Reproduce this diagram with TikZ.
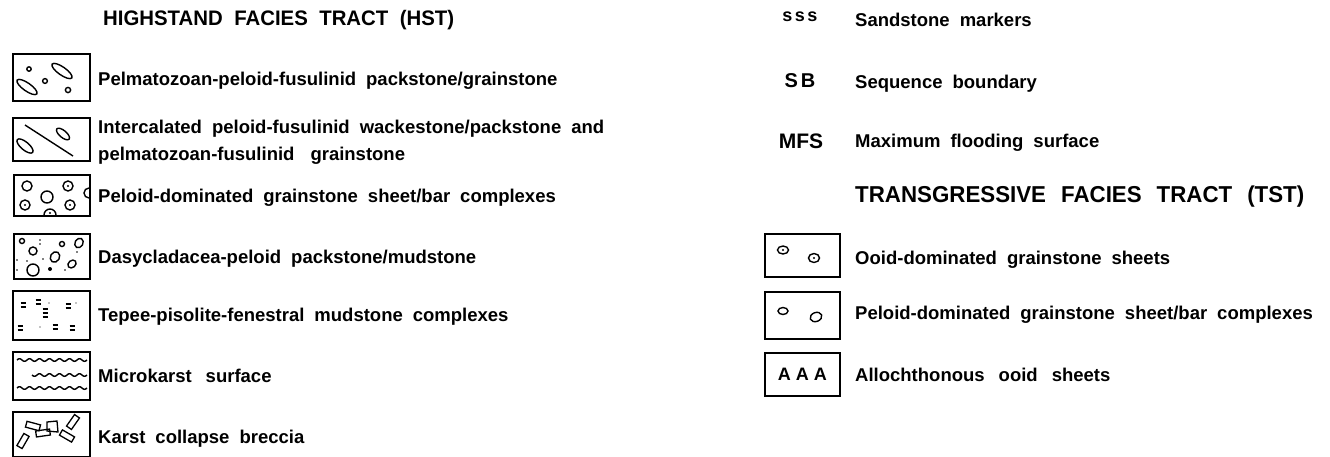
\documentclass[tikz,border=0pt]{standalone}
\usepackage{fontspec}
\setmainfont{Liberation Sans}
\newfontfamily\hfont{Liberation Sans}[FakeStretch=0.97]
\newfontfamily\sfont{Liberation Sans}
\newcommand{\bodyws}{\spaceskip=10pt plus 1pt minus 1pt\relax}
\newcommand{\hdrws}{\spaceskip=11.5pt plus 2pt minus 1pt\relax}
\newcommand{\tstws}{\spaceskip=15pt plus 2pt minus 1pt\relax}
\begin{document}
\begin{tikzpicture}[x=1pt,y=-1pt,
  lbox/.style={draw, line width=1.8pt, minimum width=#1, inner sep=0pt, anchor=north west},
  txt/.style={anchor=west, inner sep=0pt, text height=13pt, text depth=0pt, font=\bfseries\fontsize{18.5}{22}\selectfont, execute at begin node=\bodyws},
  hdr/.style={anchor=west, inner sep=0pt, text height=15pt, text depth=0pt, font=\hfont\bfseries\fontsize{21}{26}\selectfont, execute at begin node=\hdrws},
  sym/.style={inner sep=0pt, font=\sfont\bfseries\fontsize{20}{24}\selectfont},
  pat/.style={line width=1.4pt}
]
\useasboundingbox (0,0) rectangle (1330,456);

% ---------- left column ----------
\node[hdr] (hst) at (103,18) {HIGHSTAND FACIES TRACT (HST)};

\node[lbox=77pt, minimum height=47pt] (b1) at (12,53) {};
\node[lbox=77pt, minimum height=43pt] (b2) at (12,117) {};
\node[lbox=76pt, minimum height=41pt] (b3) at (13,174) {};
\node[lbox=76pt, minimum height=45pt] (b4) at (13,233) {};
\node[lbox=77pt, minimum height=49pt] (b5) at (12,290) {};
\node[lbox=77pt, minimum height=48pt] (b6) at (12,351) {};
\node[lbox=77pt, minimum height=45pt] (b7) at (12,411) {};

\node[txt] (t1) at (98,79) {Pelmatozoan-peloid-fusulinid packstone/grainstone};
\node[txt] (t2a) at (98,127) {Intercalated peloid-fusulinid wackestone/packstone and};
\node[txt] (t2b) at (98,154) {pelmatozoan-fusulinid\hspace{16pt}grainstone};
\node[txt] (t3) at (98,196) {Peloid-dominated grainstone sheet/bar complexes};
\node[txt] (t4) at (98,257) {Dasycladacea-peloid packstone/mudstone};
\node[txt] (t5) at (98,315) {Tepee-pisolite-fenestral mudstone complexes};
\node[txt] (t6) at (98,376) {Microkarst\hspace{14pt}surface};
\node[txt] (t7) at (98,437) {Karst collapse breccia};

% box 1 pattern
\begin{scope}[shift={(b1.north west)}, pat]
  \draw (17,16) circle[radius=2.2pt];
  \draw[rotate around={-35:(50,18)}] (50,18) ellipse[x radius=12pt, y radius=4pt];
  \draw[rotate around={-35:(15,34)}] (15,34) ellipse[x radius=12pt, y radius=4pt];
  \draw (33,28) circle[radius=2.4pt];
  \draw (56,37) circle[radius=2.6pt];
\end{scope}
% box 2 pattern
\begin{scope}[shift={(b2.north west)}, pat]
  \draw (13,8) -- (61,39);
  \draw[rotate around={-40:(13,29)}] (13,29) ellipse[x radius=10pt, y radius=4pt];
  \draw[rotate around={-40:(51,17)}] (51,17) ellipse[x radius=8pt, y radius=3.5pt];
\end{scope}
% box 3 pattern
\begin{scope}[shift={(b3.north west)}, pat]
  \draw (14,12) circle[radius=5pt];
  \draw (55,12) circle[radius=5pt]; \fill (55,12) circle[radius=1.2pt];
  \draw (34,23) circle[radius=6pt];
  \draw (12,31) circle[radius=5pt]; \fill (12,31) circle[radius=1.2pt];
  \draw (57,31) circle[radius=5pt]; \fill (57,31) circle[radius=1.2pt];
  \draw (31,41) arc[start angle=180, end angle=0, radius=6pt]; \fill (37,39) circle[radius=1.2pt];
  \draw (76,14) arc[start angle=90, end angle=270, radius=5pt];
\end{scope}
% box 4 pattern
\begin{scope}[shift={(b4.north west)}, pat]
  \draw (9,8) circle[radius=2.5pt];
  \draw (20,18) circle[radius=4pt];
  \draw (49,11) circle[radius=2.5pt];
  \draw[rotate around={60:(66,10)}] (66,10) ellipse[x radius=5pt, y radius=4pt];
  \draw[rotate around={60:(42,24)}] (42,24) ellipse[x radius=5.5pt, y radius=4.5pt];
  \draw (20,37) circle[radius=6pt];
  \draw[rotate around={40:(59,31)}] (59,31) ellipse[x radius=4.5pt, y radius=3.5pt];
  \fill (37,36) circle[radius=2pt];
  \foreach \p in {(27,7),(4,27),(14,28),(30,26),(64,19),(52,37),(4,37),(27,11)}
    \fill \p circle[radius=0.9pt];
\end{scope}
% box 5 pattern
\begin{scope}[shift={(b5.north west)}, pat, line width=1.5pt]
  \foreach \x/\y in {11/15, 26/12, 56/16, 8/38, 43/37, 60/38}{
    \draw (\x-2.5,\y-1.8) -- (\x+2.5,\y-1.8);
    \draw (\x-2.5,\y+1.8) -- (\x+2.5,\y+1.8);
  }
  \draw (30.5,19) -- (35.5,19);
  \draw (30.5,23) -- (35.5,23);
  \draw (30.5,27) -- (35.5,27);
  \fill (37,13) circle[radius=0.7pt];
  \fill (64,13) circle[radius=0.7pt];
  \fill (28,37) circle[radius=0.7pt];
\end{scope}
% box 6 pattern
\begin{scope}[shift={(b6.north west)}, pat]
  \draw plot[domain=5:75, samples=80] (\x, {9+1.3*sin(\x*36)});
  \draw plot[domain=20:75, samples=70] (\x, {24+1.3*sin(\x*36)});
  \draw plot[domain=5:75, samples=80] (\x, {37+1.3*sin(\x*36)});
\end{scope}
% box 7 pattern
\begin{scope}[shift={(b7.north west)}, pat, line width=1.3pt]
  \draw[rotate around={-15:(21,15)}] (14,12) rectangle (28,18);
  \draw (35,11) -- (45,10) -- (46,21) -- (35,20) -- cycle;
  \draw[rotate around={55:(61,11)}] (54,8) rectangle (68,14);
  \draw[rotate around={8:(31,22)}] (24,19) rectangle (38,25);
  \draw[rotate around={-30:(55,25)}] (48,22) rectangle (62,28);
  \draw[rotate around={60:(11,30)}] (4,27) rectangle (18,33);
\end{scope}

% ---------- right column ----------
\node[sym, font=\sfont\bfseries\fontsize{18}{18}\selectfont] (sss) at (800,17) {s\hspace{2.5pt}s\hspace{2.5pt}s};
\node[sym] (sb) at (800,81) {S\hspace{3pt}B};
\node[sym, font=\sfont\bfseries\fontsize{21}{24}\selectfont] (mfs) at (801,141) {MFS};
\node[txt] (r1) at (855,20) {Sandstone markers};
\node[txt] (r2) at (855,82) {Sequence boundary};
\node[txt] (r3) at (855,141) {Maximum flooding surface};
\node[hdr, execute at begin node=\tstws, font=\hfont\bfseries\fontsize{23}{26}\selectfont] (tst) at (855,195) {TRANSGRESSIVE FACIES TRACT (TST)};

\node[lbox=75pt, minimum height=43pt] (c1) at (764,233) {};
\node[lbox=75pt, minimum height=47pt] (c2) at (764,291) {};
\node[lbox=75pt, minimum height=43pt] (c3) at (764,352) {};

\node[txt] (r4) at (855,258) {Ooid-dominated grainstone sheets};
\node[txt] (r5) at (855,313) {Peloid-dominated grainstone sheet/bar complexes};
\node[txt] (r6) at (855,375) {Allochthonous\hspace{14pt}ooid\hspace{14pt}sheets};

\begin{scope}[shift={(c1.north west)}, pat]
  \draw (19,17) ellipse[x radius=5.5pt, y radius=4pt]; \fill (19,17) circle[radius=1.2pt];
  \draw (50,25) ellipse[x radius=5.5pt, y radius=4.5pt]; \fill (50,25) circle[radius=1.2pt];
\end{scope}
\begin{scope}[shift={(c2.north west)}, pat]
  \draw (19,20) ellipse[x radius=5pt, y radius=3.5pt];
  \draw[rotate around={20:(52,26)}] (52,26) ellipse[x radius=6pt, y radius=4.5pt];
\end{scope}
\node[sym, font=\sfont\bfseries\fontsize{18}{20}\selectfont] (aaa) at (c3.center) {A\hspace{5pt}A\hspace{5pt}A};
\end{tikzpicture}
\end{document}
